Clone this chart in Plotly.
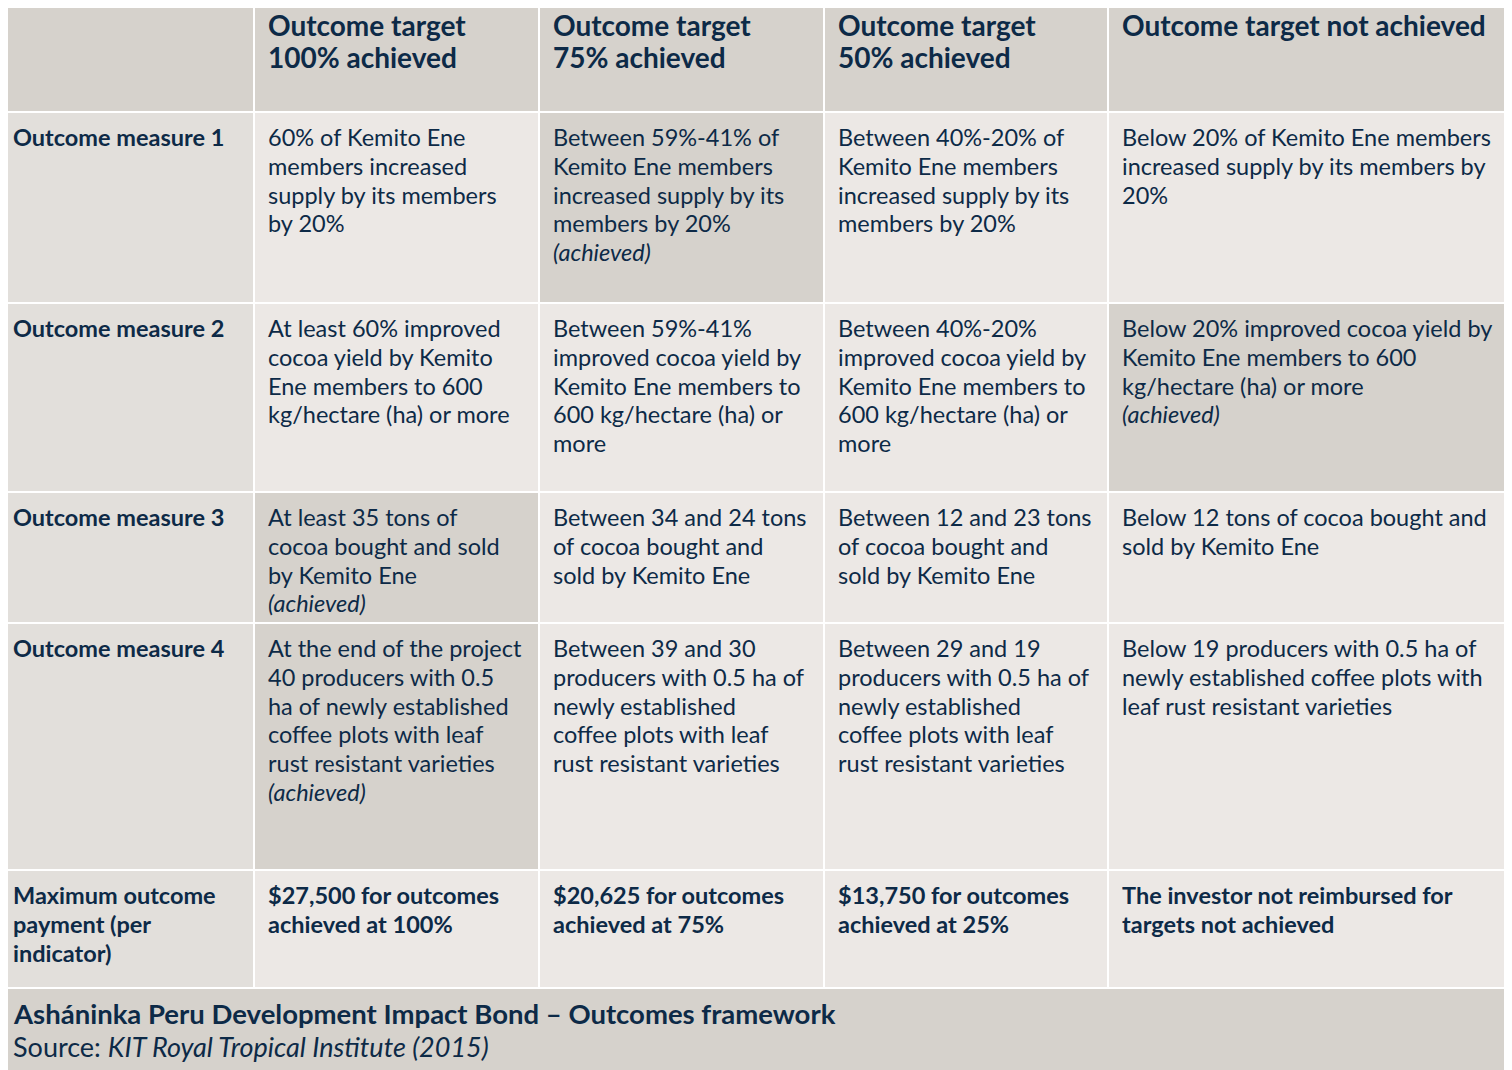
import plotly.graph_objects as go

headers = ["", "Outcome target<br>100% achieved", "Outcome target<br>75% achieved",
           "Outcome target<br>50% achieved", "Outcome target not achieved"]
row_labels = ["Outcome measure 1", "Outcome measure 2", "Outcome measure 3",
              "Outcome measure 4", "Maximum outcome<br>payment (per<br>indicator)"]
col_100 = ["60% of Kemito Ene<br>members increased<br>supply by its members<br>by 20%",
           "At least 60% improved<br>cocoa yield by Kemito<br>Ene members to 600<br>kg/hectare (ha) or more",
           "At least 35 tons of<br>cocoa bought and sold<br>by Kemito Ene<br><i>(achieved)</i>",
           "At the end of the project<br>40 producers with 0.5<br>ha of newly established<br>coffee plots with leaf<br>rust resistant varieties<br><i>(achieved)</i>",
           "$27,500 for outcomes<br>achieved at 100%"]
col_75 = ["Between 59%-41% of<br>Kemito Ene members<br>increased supply by its<br>members by 20%<br><i>(achieved)</i>",
          "Between 59%-41%<br>improved cocoa yield by<br>Kemito Ene members to<br>600 kg/hectare (ha) or<br>more",
          "Between 34 and 24 tons<br>of cocoa bought and<br>sold by Kemito Ene",
          "Between 39 and 30<br>producers with 0.5 ha of<br>newly established<br>coffee plots with leaf<br>rust resistant varieties",
          "$20,625 for outcomes<br>achieved at 75%"]
col_50 = ["Between 40%-20% of<br>Kemito Ene members<br>increased supply by its<br>members by 20%",
          "Between 40%-20%<br>improved cocoa yield by<br>Kemito Ene members to<br>600 kg/hectare (ha) or<br>more",
          "Between 12 and 23 tons<br>of cocoa bought and<br>sold by Kemito Ene",
          "Between 29 and 19<br>producers with 0.5 ha of<br>newly established<br>coffee plots with leaf<br>rust resistant varieties",
          "$13,750 for outcomes<br>achieved at 25%"]
col_not = ["Below 20% of Kemito Ene members<br>increased supply by its members by<br>20%",
           "Below 20% improved cocoa yield by<br>Kemito Ene members to 600<br>kg/hectare (ha) or more<br><i>(achieved)</i>",
           "Below 12 tons of cocoa bought and<br>sold by Kemito Ene",
           "Below 19 producers with 0.5 ha of<br>newly established coffee plots with<br>leaf rust resistant varieties",
           "The investor not reimbursed for<br>targets not achieved"]
achieved_col = [2, 4, 1, 1, 0]
bold_rows = [False, False, False, False, True]
title = "Asháninka Peru Development Impact Bond – Outcomes framework"
source = "Source: <i>KIT Royal Tropical Institute (2015)</i>"

col_edges = [0, 254, 539, 824, 1108, 1512]
row_edges = [0, 112, 303, 492, 623, 870, 988]
FOOT_END = 1070
TXT = "#0d2a47"
HEAD_BG = "#d6d2cc"
CELL_BG = "#ece8e5"
COL0_BG = "#e2dfdb"
GAP = 1
OFF = 8  # page body margin compensation

fig = go.Figure()
shapes, anns = [], []

def rect(x0, x1, y0, y1, color):
    shapes.append(dict(type="rect", xref="x", yref="y", x0=x0, x1=x1, y0=y0, y1=y1,
                       fillcolor=color, line=dict(width=0), layer="below"))

def text(x, y, t, size, bold=False, lh=29):
    for i, line in enumerate(t.split("<br>")):
        anns.append(dict(xref="x", yref="y", x=x, y=y + i * lh,
                         text=(f"<b>{line}</b>" if bold else line),
                         showarrow=False, xanchor="left", yanchor="middle", align="left",
                         xshift=-2,
                         font=dict(family="Lato", size=size, color=TXT)))

cols = [row_labels, col_100, col_75, col_50, col_not]
for c in range(5):
    x0 = col_edges[c] + (GAP if c > 0 else 0)
    x1 = col_edges[c + 1] - GAP
    rect(x0, x1, 0, row_edges[1] - GAP, HEAD_BG)
    if headers[c]:
        text(col_edges[c] + 14, 25, headers[c], 28, bold=True, lh=32)
for r in range(5):
    y0 = row_edges[r + 1] + GAP
    y1 = row_edges[r + 2] - GAP
    for c in range(5):
        x0 = col_edges[c] + (GAP if c > 0 else 0)
        x1 = col_edges[c + 1] - (GAP if c < 4 else 0)
        if c == 0:
            color = COL0_BG
        elif achieved_col[r] == c:
            color = HEAD_BG
        else:
            color = CELL_BG
        rect(x0, x1, y0, y1, color)
        text(col_edges[c] + (13 if c == 0 else 14), y0 + 24, cols[c][r], 23.5,
             bold=(c == 0 or bold_rows[r]), lh=28.8)
rect(0, 1512, row_edges[-1] + GAP, FOOT_END, HEAD_BG)
text(13, 1013, title, 27.5, bold=True)
text(13, 1046, source, 27)

fig.update_layout(shapes=shapes, annotations=anns, width=1512 - OFF, height=1070 - OFF,
                  margin=dict(l=0, r=0, t=0, b=0), plot_bgcolor="white", paper_bgcolor="white",
                  xaxis=dict(range=[OFF, 1512], visible=False, fixedrange=True),
                  yaxis=dict(range=[1070, OFF], visible=False, fixedrange=True),
                  showlegend=False)
fig.add_trace(go.Scatter(x=[], y=[]))
fig.write_html("out.html", config={"displayModeBar": False})
